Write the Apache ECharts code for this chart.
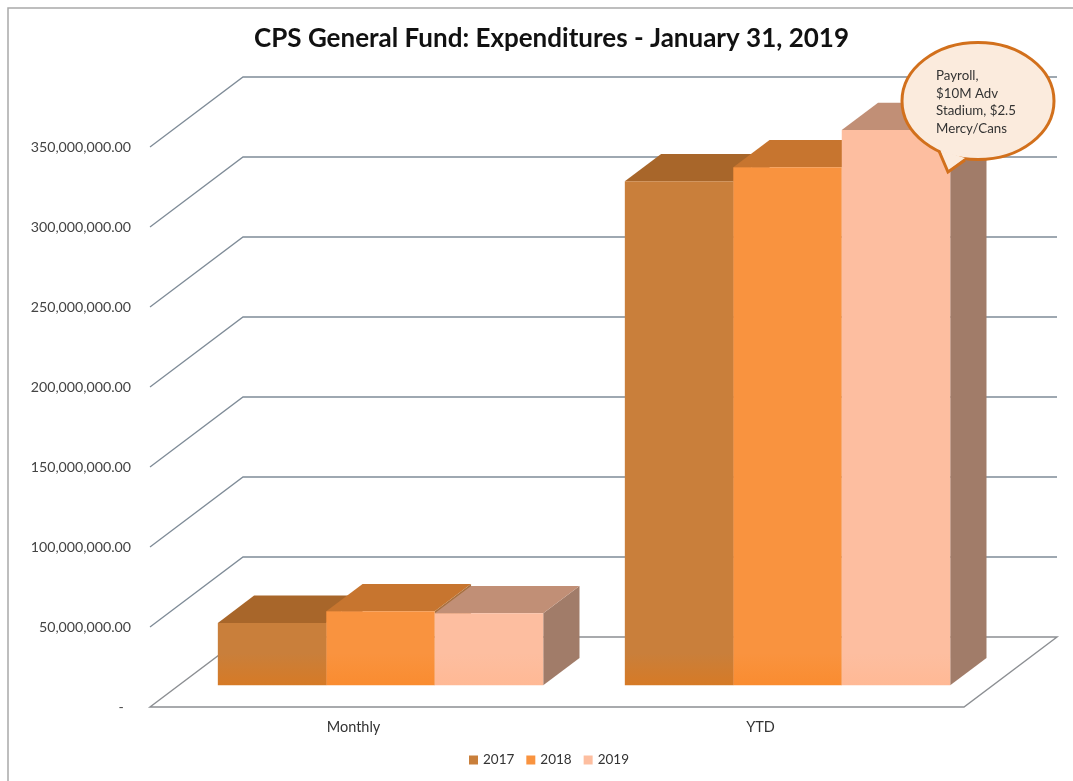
<!DOCTYPE html>
<html><head><meta charset="utf-8">
<style>html,body{margin:0;padding:0;background:#fff}#c{width:1073px;height:781px}</style>
<script src="https://cdn.jsdelivr.net/npm/echarts@6/dist/echarts.min.js"></script>
</head><body><div id="c"></div>
<script>
const categories = ['Monthly', 'YTD'];
const years = ['2017', '2018', '2019'];
const values2017 = [39000000, 315000000];
const values2018 = [46300000, 323800000];
const values2019 = [45000000, 347000000];
const yTicks = [0, 50000000, 100000000, 150000000, 200000000, 250000000, 300000000, 350000000];
const noteLines = ['Payroll,', '$10M Adv', 'Stadium, $2.5', 'Mercy/Cans'];

const frontColors = ['#C97F3B', '#F9933F', '#FDBEA0'];
const baseColors = ['#D67A26', '#FA8C30', '#FFB995'];
const topColors = ['#A8662A', '#C7752F', '#C18F76'];
const sideColors = ['#9A6A45', '#A8703F', '#A17C69'];
const FONT = 'Lato, "Open Sans", sans-serif';
const DX = 93, DY = -70;          // full floor depth in pixels
const D1 = 0.31, D2 = 0.70;       // bar depth range as a share of the floor
const BAR = 0.2665;               // bar width as a share of the category band
const BAR_SHIFT = -1.8;           // fine horizontal nudge of the bar block

const chart = echarts.init(document.getElementById('c'), null, {renderer: 'canvas'});

function wallItem(params, api) {
  const cs = params.coordSys;
  const v = api.value(1);
  const p = api.coord([0, v]);
  const x0 = cs.x, y = p[1];
  const xr = cs.x + cs.width;
  if (v === 0) {
    return {type: 'polygon', shape: {points: [[x0, y], [xr, y], [xr + DX, y + DY], [x0 + DX, y + DY]]},
      style: {fill: 'none', stroke: '#8C8F93', lineWidth: 1.4}};
  }
  return {type: 'polyline', shape: {points: [[x0, y], [x0 + DX, y + DY], [xr + DX, y + DY]]},
    style: {fill: 'none', stroke: '#7F8C98', lineWidth: 1.3}};
}

function barRenderer(s) {
  return function (params, api) {
    const cat = api.value(0), v = api.value(1);
    const band = api.size([1, 0])[0];
    const w = band * BAR;
    const c = api.coord([cat, 0]);
    const t = api.coord([cat, v]);
    const ox = D1 * DX + BAR_SHIFT, oy = D1 * DY;
    const bx = (D2 - D1) * DX, by = (D2 - D1) * DY;
    const L = c[0] + ox + (s - 1.5) * w, R = L + w;
    const B = c[1] + oy, T = t[1] + oy;
    const fade = Math.max(0, 1 - 32 / (B - T));
    return {type: 'group', children: [
      {type: 'polygon', shape: {points: [[R, B], [R + bx, B + by], [R + bx, T + by], [R, T]]}, style: {fill: sideColors[s]}},
      {type: 'polygon', shape: {points: [[L, T], [R, T], [R + bx, T + by], [L + bx, T + by]]}, style: {fill: topColors[s]}},
      {type: 'rect', shape: {x: L, y: T, width: w, height: B - T}, style: {
        fill: new echarts.graphic.LinearGradient(0, 0, 0, 1, [
          {offset: 0, color: frontColors[s]},
          {offset: fade, color: frontColors[s]},
          {offset: 1, color: baseColors[s]}
        ])
      }}
    ]};
  };
}

const allValues = [values2017, values2018, values2019];
const barSeries = years.map((y, s) => ({
  name: y,
  type: 'custom',
  coordinateSystem: 'cartesian2d',
  renderItem: barRenderer(s),
  itemStyle: {color: frontColors[s]},
  encode: {x: 0, y: 1},
  data: allValues[s].map((v, i) => [i, v]),
  silent: true,
  animation: false,
  z: 3
}));

chart.setOption({
  animation: false,
  backgroundColor: '#fff',
  title: {
    text: 'CPS General Fund: Expenditures - January 31, 2019',
    left: 546.5, top: 21, textAlign: 'center',
    textStyle: {fontFamily: FONT, fontWeight: 'bold', fontSize: 26, color: '#111'}
  },
  legend: {
    data: years, left: 469, top: 753,
    icon: 'rect', itemWidth: 9, itemHeight: 9, itemGap: 12, padding: 0,
    textStyle: {fontFamily: FONT, fontSize: 13.5, color: '#333'}
  },
  grid: {left: 150, top: 147, width: 814, height: 560},
  xAxis: {
    type: 'category', data: categories,
    axisLine: {show: false}, axisTick: {show: false}, splitLine: {show: false},
    axisLabel: {margin: 13, fontFamily: FONT, fontSize: 14.5, color: '#333'}
  },
  yAxis: {
    type: 'value', min: 0, max: 350000000, interval: 50000000,
    axisLine: {show: false}, axisTick: {show: false}, splitLine: {show: false},
    axisLabel: {
      margin: 19, fontFamily: FONT, fontSize: 14.2, color: '#444', padding: [3, 0, 0, 0],
      formatter: v => v === 0 ? '-  ' : v.toLocaleString('en-US', {minimumFractionDigits: 2, maximumFractionDigits: 2})
    }
  },
  series: [{
    name: 'walls', type: 'custom', coordinateSystem: 'cartesian2d',
    renderItem: wallItem, encode: {x: 0, y: 1},
    data: yTicks.map(t => [0, t]), silent: true, animation: false, z: 2
  }].concat(barSeries),
  graphic: [
    {type: 'rect', z: 1, shape: {x: 8, y: 8, width: 1070, height: 790}, style: {fill: 'none', stroke: '#A9A9A9', lineWidth: 1.5}},
    {type: 'ellipse', z: 20, shape: {cx: 978, cy: 101, rx: 76, ry: 58.5}, style: {fill: '#FBEBDD', stroke: '#D2701C', lineWidth: 3}},
    {type: 'polygon', z: 21, shape: {points: [[940, 150], [965, 158], [948, 171]]}, style: {fill: '#FBEBDD'}},
    {type: 'polyline', z: 22, shape: {points: [[939, 151], [948, 172], [965, 160]]}, style: {fill: 'none', stroke: '#D2701C', lineWidth: 3}},
    {type: 'text', z: 23, left: 936, top: 67, style: {text: noteLines.join('\n'), fontFamily: FONT, fontSize: 13.3, lineHeight: 17.5, fill: '#333'}}
  ]
});
</script></body></html>
